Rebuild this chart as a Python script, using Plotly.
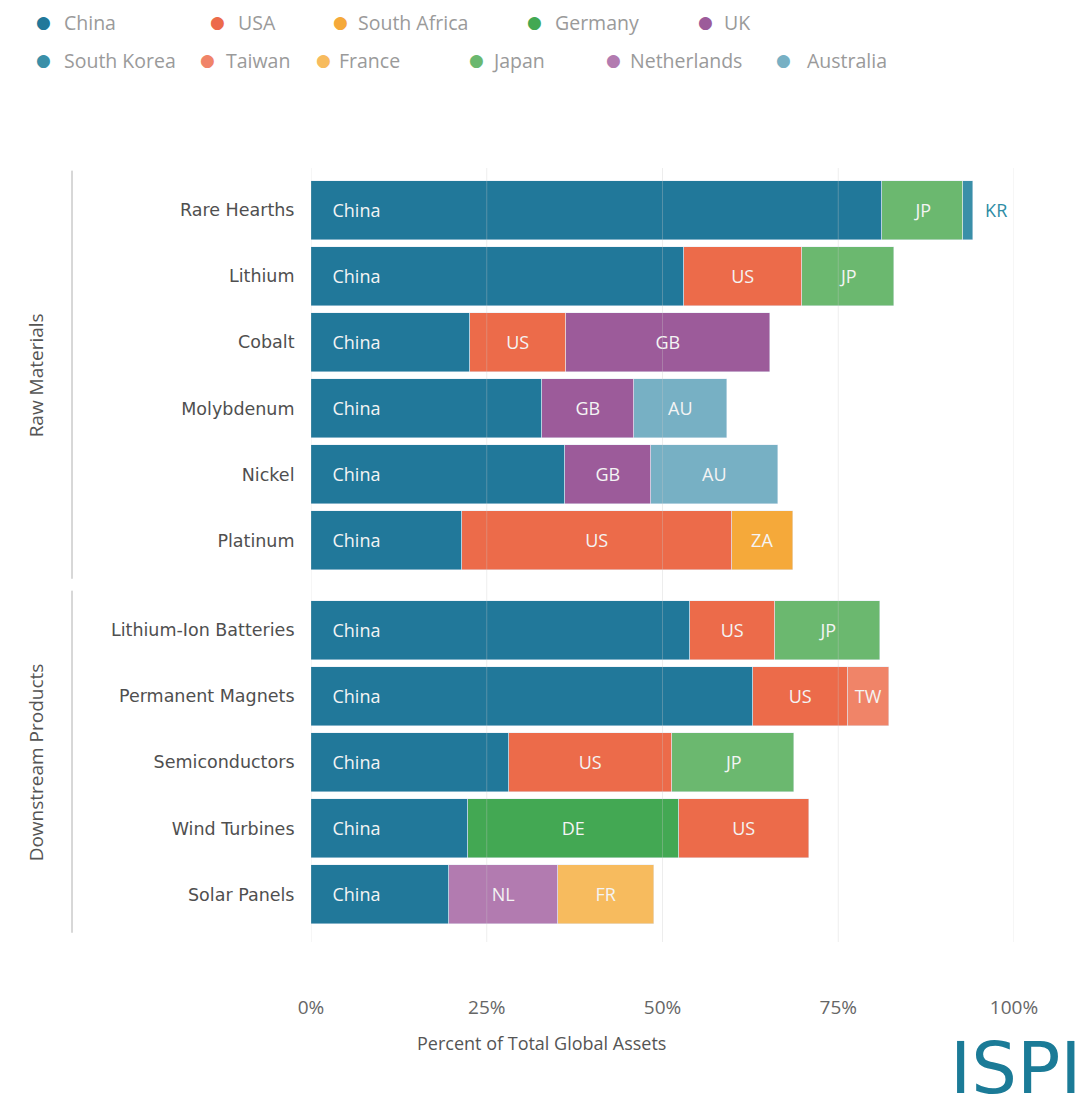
import plotly.graph_objects as go

# ---------------- data ----------------
categories = ["Rare Hearths", "Lithium", "Cobalt", "Molybdenum", "Nickel", "Platinum",
              "Lithium-Ion Batteries", "Permanent Magnets", "Semiconductors",
              "Wind Turbines", "Solar Panels"]
groups = ["Raw Materials"] * 6 + ["Downstream Products"] * 5

china        = [81.2, 53.1, 22.6, 32.9, 36.2, 21.5, 53.9, 62.9, 28.2, 22.4, 19.7]
germany      = [None, None, None, None, None, None, None, None, None, 29.9, None]
usa          = [None, 16.8, 13.7, None, None, 38.4, 12.1, 13.5, 23.2, 18.5, None]
uk           = [None, None, 29.0, 13.0, 12.2, None, None, None, None, None, None]
australia    = [None, None, None, 13.3, 18.0, None, None, None, None, None, None]
south_africa = [None, None, None, None, None, 8.6, None, None, None, None, None]
taiwan       = [None, None, None, None, None, None, None, 5.8, None, None, None]
japan        = [11.5, 13.1, None, None, None, None, 14.9, None, 17.3, None, None]
south_korea  = [1.5, None, None, None, None, None, None, None, None, None, None]
netherlands  = [None, None, None, None, None, None, None, None, None, None, 15.4]
france       = [None, None, None, None, None, None, None, None, None, None, 13.7]

x_ticks = [0, 25, 50, 75, 100]
x_tick_labels = ["0%", "25%", "50%", "75%", "100%"]

# (name, code, values, colour) in stacking order
series = [
    ("China", "China", china, "#21789A"),
    ("Germany", "DE", germany, "#43A853"),
    ("USA", "US", usa, "#EC6B4A"),
    ("UK", "GB", uk, "#9C5B9A"),
    ("Australia", "AU", australia, "#77B0C4"),
    ("South Africa", "ZA", south_africa, "#F5A93A"),
    ("Taiwan", "TW", taiwan, "#F08468"),
    ("Japan", "JP", japan, "#6BB86F"),
    ("South Korea", "KR", south_korea, "#3A8FA8"),
    ("Netherlands", "NL", netherlands, "#B27BB0"),
    ("France", "FR", france, "#F7BB5E"),
]
legend_order = ["China", "USA", "South Africa", "Germany", "UK",
                "South Korea", "Taiwan", "France", "Japan", "Netherlands", "Australia"]

# ---------------- layout helpers ----------------
OFF = 8  # page body margin
W, H = 1090 - OFF, 1113 - OFF
PW, PH = 703, 774
ML, MT = 311 - OFF, 168 - OFF
MR = W - ML - PW
MB = H - MT - PH

def px_x(px):
    return (px - OFF - ML) / PW

def px_y(py):
    return (MT + PH - (py - OFF)) / PH

# y positions with a gap between groups
pos = []
offset = 0.0
for i, g in enumerate(groups):
    if i > 0 and g != groups[i - 1]:
        offset += 0.36
    pos.append(i + offset)

FONT = "Open Sans"
fig = go.Figure()
for name, code, vals, col in series:
    if name == "China":
        txt = ["\u00a0\u00a0\u00a0\u00a0" + code if v is not None else "" for v in vals]
        fig.add_trace(go.Bar(y=pos, x=vals, orientation="h", name=name, marker_color=col,
                             width=0.9, text=txt, textposition="inside",
                             insidetextanchor="start", textangle=0,
                             textfont=dict(family=FONT, size=18, color="#F4F4F4"),
                             showlegend=False))
    elif name == "South Korea":
        txt = ["\u00a0\u00a0" + code if v is not None else "" for v in vals]
        fig.add_trace(go.Bar(y=pos, x=vals, orientation="h", name=name, marker_color=col,
                             width=0.9, text=txt, textposition="outside", textangle=0,
                             cliponaxis=False,
                             textfont=dict(family=FONT, size=18, color="#2E8CA5"),
                             showlegend=False))
    else:
        txt = [code if v is not None else "" for v in vals]
        fig.add_trace(go.Bar(y=pos, x=vals, orientation="h", name=name, marker_color=col,
                             width=0.9, text=txt, textposition="inside",
                             insidetextanchor="middle", textangle=0,
                             textfont=dict(family=FONT, size=18, color="#F4F4F4"),
                             showlegend=False))

shapes = []
annotations = []

# grid lines drawn over bars, faint
for t in x_ticks:
    shapes.append(dict(type="line", xref="x", yref="paper", x0=t, x1=t, y0=0, y1=1,
                       line=dict(color="rgba(200,200,200,0.32)", width=1), layer="above"))

# group brackets and labels
gnames = []
for g in groups:
    if g not in gnames:
        gnames.append(g)
for g in gnames:
    idx = [i for i, gg in enumerate(groups) if gg == g]
    y0 = pos[idx[0]] - 0.6
    y1 = pos[idx[-1]] + 0.58
    shapes.append(dict(type="line", xref="paper", yref="y", x0=px_x(72), x1=px_x(72),
                       y0=y0, y1=y1, line=dict(color="#B0B0B0", width=1)))
    annotations.append(dict(text=g, xref="paper", yref="y", x=px_x(21),
                            y=(pos[idx[0]] + pos[idx[-1]]) / 2, textangle=-90,
                            showarrow=False, font=dict(family=FONT, size=19, color="#555")))

# manual legend
legend_pos = {
    "China": (43, 23, 62), "USA": (217, 23, 236), "South Africa": (340, 23, 356),
    "Germany": (534, 23, 553), "UK": (705, 23, 722),
    "South Korea": (43, 61, 62), "Taiwan": (207, 61, 224), "France": (323, 61, 337),
    "Japan": (476, 61, 490), "Netherlands": (613, 61, 628), "Australia": (783, 61, 805),
}
colmap = {s[0]: s[3] for s in series}
for nm in legend_order:
    dx, yy, tx = legend_pos[nm]
    annotations.append(dict(text="●", xref="paper", yref="paper", x=px_x(dx), y=px_y(yy - 1),
                            xanchor="center", yanchor="middle", showarrow=False,
                            font=dict(family="DejaVu Sans", size=17, color=colmap[nm])))
    annotations.append(dict(text=nm, xref="paper", yref="paper", x=px_x(tx), y=px_y(yy),
                            xanchor="left", yanchor="middle", showarrow=False,
                            font=dict(family=FONT, size=19.5, color="#9A9A9A")))

# axis title
annotations.append(dict(text="Percent of Total Global Assets", xref="paper", yref="paper",
                        x=px_x(541), y=px_y(1043), xanchor="center", yanchor="middle",
                        showarrow=False, font=dict(family=FONT, size=18, color="#555")))
# logo
annotations.append(dict(text="ISPI", xref="paper", yref="paper",
                        x=px_x(1016), y=px_y(1112), xanchor="center", yanchor="bottom",
                        showarrow=False,
                        font=dict(family="DejaVu Sans", size=72, color="#1B7B97")))

fig.update_layout(
    width=W, height=H, autosize=False,
    margin=dict(l=ML, r=MR, t=MT, b=MB),
    barmode="stack", bargap=0,
    plot_bgcolor="white", paper_bgcolor="white",
    showlegend=False,
    xaxis=dict(range=[0, 100], tickvals=x_ticks, ticktext=x_tick_labels,
               showgrid=False, zeroline=False, showline=False,
               ticks="outside", ticklen=48, tickcolor="rgba(0,0,0,0)",
               tickfont=dict(family=FONT, size=19, color="#666")),
    yaxis=dict(range=[pos[-1] + 0.72, pos[0] - 0.64], tickvals=pos, ticktext=categories,
               showgrid=False, zeroline=False, showline=False,
               ticks="outside", ticklen=12, tickcolor="rgba(0,0,0,0)",
               tickfont=dict(family="DejaVu Sans", size=17.5, color="#4F4F4F")),
    shapes=shapes, annotations=annotations,
    uniformtext=dict(mode=False),
)

fig.write_html("out.html")
